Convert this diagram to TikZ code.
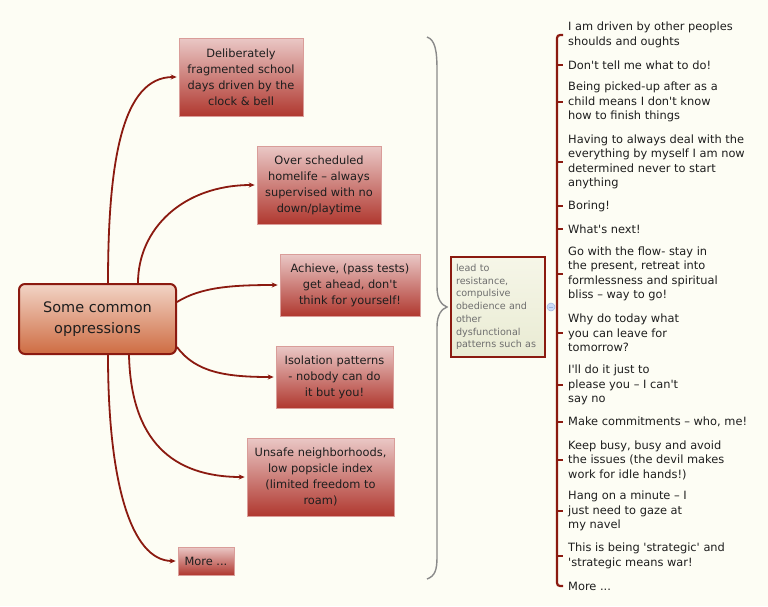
\documentclass[tikz,border=0pt]{standalone}
\usepackage{fontspec}
\setmainfont{DejaVu Sans}[Ligatures=TeXOff]
\usetikzlibrary{arrows.meta}
\definecolor{bg}{HTML}{FDFDF4}
\definecolor{dred}{HTML}{8B1A10}
\definecolor{boxtop}{HTML}{EAC8C6}
\definecolor{boxbot}{HTML}{B0382F}
\definecolor{ctop}{HTML}{F2D4C6}
\definecolor{cbot}{HTML}{CE6C42}
\definecolor{notetop}{HTML}{F6F6E8}
\definecolor{notebot}{HTML}{E9EBD3}
\definecolor{notetext}{HTML}{6E6E6E}
\definecolor{bracegray}{HTML}{8A8A8A}
\definecolor{txt}{HTML}{1E1E1E}
\definecolor{colfill}{HTML}{CCDAF6}
\definecolor{coldraw}{HTML}{9DB2E0}
\begin{document}
\begin{tikzpicture}[x=1pt,y=-1pt,
  redbox/.style={rectangle, top color=boxtop, bottom color=boxbot, draw=boxtop!70!boxbot, line width=0.6pt, align=center, text=txt, font=\fontsize{11.4}{16}\selectfont, inner sep=0pt},
  central/.style={rectangle, rounded corners=6pt, top color=ctop, bottom color=cbot, draw=dred, line width=2pt, align=center, text=txt, font=\fontsize{14.5}{21}\selectfont, minimum width=157pt, minimum height=70pt, inner sep=0pt},
  note/.style={rectangle, top color=notetop, bottom color=notebot, draw=dred, line width=2.5pt, align=left, text=notetext, font=\fontsize{9.6}{12.7}\selectfont, text width=84pt, minimum width=94pt, minimum height=100pt, inner xsep=5pt},
  conn/.style={draw=dred, line width=1.8pt, -{Stealth[length=6pt,width=5pt]}, shorten >=2pt},
  item/.style={anchor=west, align=left, inner sep=0pt, text=txt, font=\fontsize{11.4}{14.5}\selectfont},
  brk/.style={draw=dred, line width=2.2pt},
  bracestyle/.style={draw=bracegray, line width=1.4pt},
]
\useasboundingbox (0,0) rectangle (768,606);
\fill[bg] (0,0) rectangle (768,606);

% central topic
\node[central] (c) at (97.5,319) {Some common\\oppressions};

% subtopics
\node[redbox, minimum width=124pt, minimum height=78pt] (b1) at (241,77) {Deliberately\\fragmented school\\days driven by the\\clock \& bell};
\node[redbox, minimum width=124pt, minimum height=78pt] (b2) at (319,185) {Over scheduled\\homelife – always\\supervised with no\\down/playtime};
\node[redbox, minimum width=140pt, minimum height=62pt] (b3) at (350,285) {Achieve, (pass tests)\\get ahead, don't\\think for yourself!};
\node[redbox, minimum width=117pt, minimum height=62pt] (b4) at (334.5,377) {Isolation patterns\\- nobody can do\\it but you!};
\node[redbox, minimum width=147pt, minimum height=78pt] (b5) at (320.5,477) {Unsafe neighborhoods,\\low popsicle index\\(limited freedom to\\roam)};
\node[redbox, minimum width=56pt, minimum height=28pt] (b6) at (206,561) {More ...};

% connectors
\draw[conn] ([xshift=90pt]c.north west) .. controls +(0,-124) and +(-56,0) .. (b1.west);
\draw[conn] ([xshift=120pt]c.north west) .. controls +(0,-54) and +(-74,0) .. (b2.west);
\draw[conn] ([yshift=-19pt]c.north east) .. controls +(24,-15) and +(-47,0) .. (b3.west);
\draw[conn] ([yshift=8pt]c.south east) .. controls +(19,26) and +(-48,0) .. (b4.west);
\draw[conn] ([xshift=111pt]c.south west) .. controls +(2,86) and +(-74,0) .. (b5.west);
\draw[conn] ([xshift=90pt]c.south west) .. controls +(0,126) and +(-47,0) .. (b6.west);

% brace
\draw[bracestyle] (427,37) .. controls (435,40) and (437,50) .. (437,70) -- (437,287)
  .. controls (437,300) and (442,305) .. (447,307)
  .. controls (442,309) and (437,314) .. (437,327) -- (437,557)
  .. controls (437,570) and (435,576) .. (427,579);

% note
\node[note] (n) at (498,307) {lead to\\resistance,\\compulsive\\obedience and\\other\\dysfunctional\\patterns such as};

% collapse indicator
\node[circle, fill=colfill, draw=coldraw, line width=0.5pt, minimum size=8pt, inner sep=0pt] (col) at (551,307) {};
\draw[coldraw, line width=0.6pt] ([xshift=-2pt]col.center) -- ([xshift=2pt]col.center);

% items
\node[item] (it1) at (568,35) {I am driven by other peoples\\shoulds and oughts};
\node[item] (it2) at (568,65) {Don't tell me what to do!};
\node[item] (it3) at (568,102) {Being picked-up after as a\\child means I don't know\\how to finish things};
\node[item] (it4) at (568,162) {Having to always deal with the\\everything by myself I am now\\determined never to start\\anything};
\node[item] (it5) at (568,206) {Boring!};
\node[item] (it6) at (568,229) {What's next!};
\node[item] (it7) at (568,274) {Go with the flow- stay in\\the present, retreat into\\formlessness and spiritual\\bliss – way to go!};
\node[item] (it8) at (568,333) {Why do today what\\you can leave for\\tomorrow?};
\node[item] (it9) at (568,385) {I'll do it just to\\please you – I can't\\say no};
\node[item] (it10) at (568,422) {Make commitments – who, me!};
\node[item] (it11) at (568,460) {Keep busy, busy and avoid\\the issues (the devil makes\\work for idle hands!)};
\node[item] (it12) at (568,511) {Hang on a minute – I\\just need to gaze at\\my navel};
\node[item] (it13) at (568,556) {This is being 'strategic' and\\'strategic means war!};
\node[item] (it14) at (568,586) {More ...};

% bracket
\draw[brk, rounded corners=3pt] ([xshift=-5pt]it1.west) -- ([xshift=-11pt]it1.west) -- ([xshift=-11pt]it14.west) -- ([xshift=-5pt]it14.west);
\foreach \i in {2,...,13} {
  \draw[brk] ([xshift=-11pt]it\i.west) -- ([xshift=-5pt]it\i.west);
}
\end{tikzpicture}
\end{document}
